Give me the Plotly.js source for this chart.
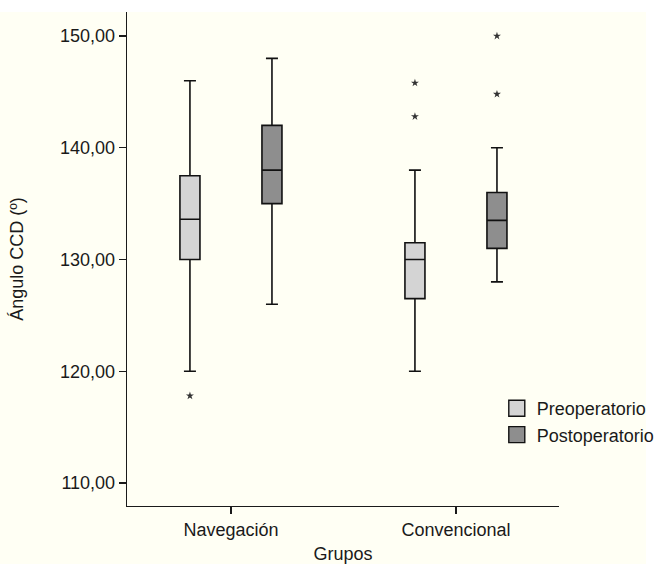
<!DOCTYPE html>
<html>
<head>
<meta charset="utf-8">
<script src="https://cdn.plot.ly/plotly-3.0.1.min.js"></script>
<style>
html,body{margin:0;padding:0;background:#ffffff;overflow:hidden;width:655px;height:564px;}
#chart{position:absolute;left:0;top:12px;width:700px;height:552px;}
</style>
</head>
<body>
<div id="chart"></div>
<script>
// Categories
var groups = ["Navegación", "Convencional"];
var seriesNames = ["Preoperatorio", "Postoperatorio"];
var seriesColors = ["#d4d4d4", "#8e8e8e"];

// Preoperatorio box statistics (per group)
var preLower  = [120.0, 120.0];
var preQ1     = [130.0, 126.5];
var preMedian = [133.6, 130.0];
var preQ3     = [137.5, 131.5];
var preUpper  = [146.0, 138.0];
var preOutliers = [[117.8], [145.8, 142.8]];

// Postoperatorio box statistics (per group)
var postLower  = [126.0, 128.0];
var postQ1     = [135.0, 131.0];
var postMedian = [138.0, 133.5];
var postQ3     = [142.0, 136.0];
var postUpper  = [148.0, 140.0];
var postOutliers = [[null], [150.0, 144.8]];

// Y tick values
var yTicks = [110, 120, 130, 140, 150];

var font = "Arial, 'Liberation Sans', Helvetica, sans-serif";

function boxTrace(name, lower, q1, med, q3, upper, outl, fill) {
  return {
    type: "box",
    name: name,
    legendgroup: name,
    showlegend: false,
    x: groups,
    y: outl,
    lowerfence: lower,
    q1: q1,
    median: med,
    q3: q3,
    upperfence: upper,
    boxpoints: "outliers",
    pointpos: 0,
    jitter: 0,
    whiskerwidth: 0.6,
    fillcolor: fill,
    line: {color: "#111111", width: 1.6},
    marker: {symbol: "star", size: 6, color: "#333333", line: {width: 0}},
    hoverinfo: "skip"
  };
}

// legend-only entries (no data points), larger square swatches
function legendEntry(name, fill) {
  return {
    type: "scatter",
    mode: "markers",
    name: name,
    legendgroup: name,
    x: [null],
    y: [null],
    marker: {symbol: "square", size: 17, color: fill, line: {color: "#111111", width: 1.4}},
    hoverinfo: "skip"
  };
}

var data = [
  boxTrace(seriesNames[0], preLower, preQ1, preMedian, preQ3, preUpper, preOutliers, seriesColors[0]),
  boxTrace(seriesNames[1], postLower, postQ1, postMedian, postQ3, postUpper, postOutliers, seriesColors[1]),
  legendEntry(seriesNames[0], seriesColors[0]),
  legendEntry(seriesNames[1], seriesColors[1])
];

var layout = {
  width: 700,
  height: 552,
  margin: {l: 127, r: 141, t: 0, b: 58, pad: 0},
  paper_bgcolor: "#fffff4",
  plot_bgcolor: "rgba(0,0,0,0)",
  separators: ",.",
  font: {family: font, size: 18, color: "#1a1a1a"},
  boxmode: "group",
  boxgap: 0.271,
  boxgroupgap: 0.756,
  showlegend: true,
  legend: {
    x: 0.856, xanchor: "left",
    y: 0.2348, yanchor: "top",
    bgcolor: "rgba(0,0,0,0)",
    borderwidth: 0,
    font: {family: font, size: 18, color: "#1a1a1a"},
    traceorder: "normal",
    tracegroupgap: 9
  },
  xaxis: {
    type: "category",
    range: [-0.462, 1.458],
    showline: true, linecolor: "#1a1a1a", linewidth: 1.3,
    ticks: "outside", ticklen: 7, tickwidth: 1.3, tickcolor: "#1a1a1a",
    showgrid: false, zeroline: false,
    tickfont: {family: font, size: 18, color: "#1a1a1a"},
    title: {text: "Grupos", font: {family: font, size: 18, color: "#1a1a1a"}, standoff: 14}
  },
  yaxis: {
    range: [107.94, 152.15],
    tickvals: yTicks,
    tickformat: ".2f",
    showline: true, linecolor: "#1a1a1a", linewidth: 1.3,
    ticks: "outside", ticklen: 7, tickwidth: 1.3, tickcolor: "#1a1a1a",
    showgrid: false, zeroline: false,
    tickfont: {family: font, size: 18, color: "#1a1a1a"},
    title: {text: "Ángulo CCD (º)", font: {family: font, size: 18, color: "#1a1a1a"}, standoff: 31}
  },
  shapes: [
    {type: "rect", xref: "paper", yref: "paper", x0: 1.2014, x1: 1.4, y0: -0.2, y1: 1.1,
     fillcolor: "#ffffff", line: {width: 0}, layer: "below"}
  ]
};

Plotly.newPlot("chart", data, layout, {staticPlot: true, displayModeBar: false});
</script>
</body>
</html>
